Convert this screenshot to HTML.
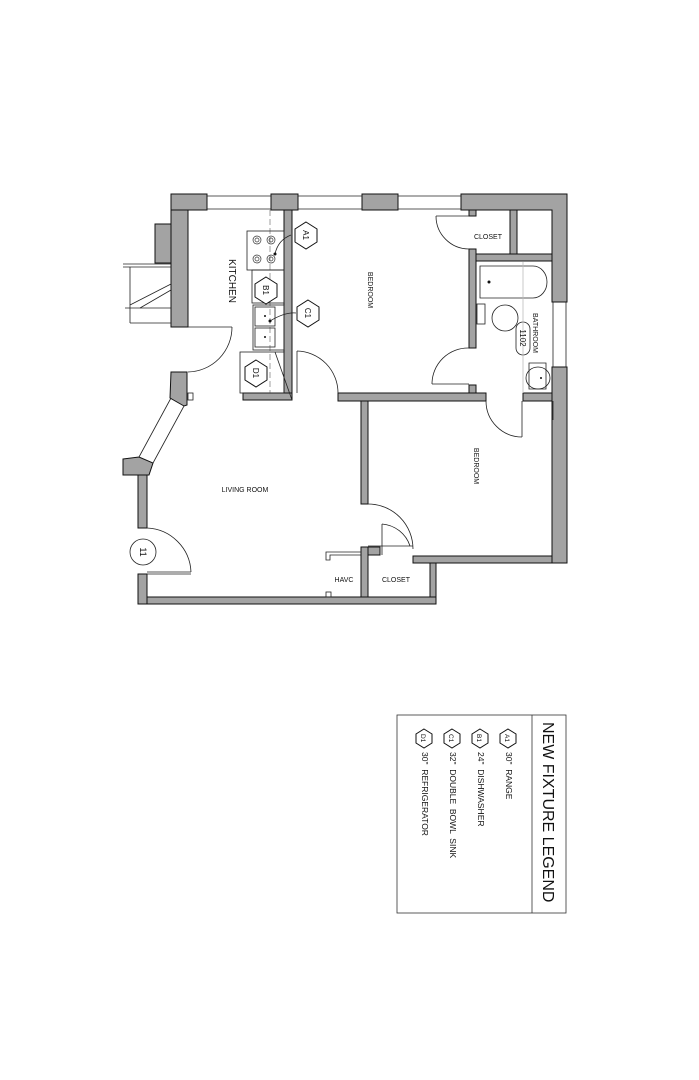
<!DOCTYPE html>
<html><head><meta charset="utf-8"><style>
html,body{margin:0;padding:0;background:#fff;}
svg{display:block;font-family:"Liberation Sans",sans-serif;}
</style></head><body>
<svg width="699" height="1080" viewBox="0 0 699 1080" xmlns="http://www.w3.org/2000/svg">
<g fill="#a3a3a3" stroke="#111" stroke-width="1">
<rect x="171" y="194" width="36" height="16"/>
<rect x="271" y="194" width="27" height="16"/>
<rect x="362" y="194" width="36" height="16"/>
<polygon points="461,194 567,194 567,302 552,302 552,210 461,210"/>
<rect x="171" y="210" width="17" height="117"/>
<rect x="155" y="224" width="16" height="39"/>
<rect x="552" y="367" width="15" height="196"/>
<rect x="284" y="210" width="8" height="190"/>
<rect x="243" y="393" width="49" height="7"/>
<rect x="338" y="393" width="148" height="8"/>
<rect x="469" y="385" width="7" height="8"/>
<rect x="361" y="401" width="7" height="103"/>
<rect x="469" y="249" width="7" height="99"/>
<rect x="469" y="210" width="7" height="6"/>
<rect x="476" y="254" width="76" height="7"/>
<rect x="510" y="210" width="7" height="44"/>
<rect x="523" y="393" width="29" height="8"/>
<rect x="413" y="556" width="139" height="7"/>
<rect x="430" y="563" width="6" height="41"/>
<rect x="147" y="597" width="289" height="7"/>
<rect x="361" y="547" width="7" height="50"/>
<rect x="368" y="547" width="12" height="8"/>
<rect x="138" y="475" width="9" height="53"/>
<rect x="138" y="574" width="9" height="30"/>
<polygon points="171,372 187,372 187,405 184,406 170,398"/>
<polygon points="123,459 139,457 153,463 149,475 123,475"/>
</g>
<g fill="none" stroke="#222" stroke-width="0.8">
<line x1="207" y1="196" x2="271" y2="196"/><line x1="207" y1="209" x2="271" y2="209"/>
<line x1="298" y1="196" x2="362" y2="196"/><line x1="298" y1="209" x2="362" y2="209"/>
<line x1="398" y1="196" x2="461" y2="196"/><line x1="398" y1="209" x2="461" y2="209"/>
<line x1="553" y1="302" x2="553" y2="367"/><line x1="566" y1="302" x2="566" y2="367"/>
<line x1="171" y1="398" x2="139" y2="457"/><line x1="184" y1="406" x2="153" y2="463"/>
<rect x="188" y="393" width="5" height="7"/>
<line x1="123" y1="264" x2="171" y2="264"/><line x1="123" y1="267" x2="171" y2="267"/>
<line x1="130" y1="267" x2="130" y2="323"/><line x1="125" y1="308" x2="171" y2="308"/>
<line x1="130" y1="305" x2="171" y2="284"/><line x1="140" y1="308" x2="171" y2="290"/>
<line x1="130" y1="323" x2="171" y2="323"/>
<line x1="188" y1="327" x2="232" y2="327"/>
<path d="M232,327 A45,45 0 0 1 188,372"/>
<line x1="297" y1="351" x2="297" y2="393"/>
<path d="M297,351 A42,42 0 0 1 338,393"/>
<line x1="436" y1="216" x2="469" y2="216"/>
<path d="M436,216 A33,33 0 0 0 469,249"/>
<line x1="432" y1="384" x2="469" y2="384"/>
<path d="M469,348 A36,36 0 0 0 432,384"/>
<line x1="522" y1="401" x2="522" y2="437"/>
<path d="M486,401 A36,36 0 0 0 522,437"/>
<path d="M368,504 A45,45 0 0 1 413,549"/>
<line x1="368" y1="546" x2="413" y2="546"/>
<path d="M382,524 A32,32 0 0 1 410,546"/>
<line x1="382" y1="524" x2="382" y2="555"/>
<path d="M147,528 A46,46 0 0 1 191,572"/>
<line x1="147" y1="572" x2="191" y2="572"/>
<line x1="147" y1="574" x2="191" y2="574"/>
<polyline points="361,552 326,552 326,560 330,560 330,555 361,555"/>
<rect x="326" y="592" width="5" height="5"/>
<line x1="270" y1="210" x2="270" y2="393" stroke-dasharray="6,3" stroke="#888"/>
<rect x="247" y="231" width="37" height="39"/>
<rect x="252" y="270" width="32" height="33"/>
<rect x="253" y="305" width="31" height="45"/>
<rect x="255" y="307" width="20" height="19"/><rect x="255" y="328" width="20" height="19"/>
<rect x="240" y="352" width="44" height="41"/>
<path d="M291,235 Q278,240 275,254"/>
<path d="M296,313 Q285,312 270,321"/>
<line x1="275" y1="352" x2="292" y2="400"/>
<path d="M480,266 L533,266 A14,16 0 0 1 533,298 L480,298 Z"/>
<rect x="477" y="304" width="8" height="20"/>
<ellipse cx="505" cy="318" rx="13" ry="13"/>
<path d="M529,363 L546,363 L546,389 L529,389 Z"/>
<ellipse cx="538" cy="378" rx="12" ry="11"/>
<line x1="553" y1="401" x2="553" y2="420"/>
<rect x="516" y="322" width="14" height="33" rx="7"/>
<line x1="523" y1="262" x2="523" y2="393" stroke="#bbb"/>
<circle cx="143" cy="552" r="13"/>
<rect x="397" y="715" width="169" height="198" stroke="#333"/>
<line x1="532" y1="715" x2="532" y2="913" stroke="#333"/>
</g>
<g fill="none" stroke="#333" stroke-width="0.7">
<circle cx="257" cy="240" r="4"/><circle cx="257" cy="240" r="2"/>
<circle cx="271" cy="240" r="4"/><circle cx="271" cy="240" r="2"/>
<circle cx="257" cy="259" r="4"/><circle cx="257" cy="259" r="2"/>
<circle cx="271" cy="259" r="4"/><circle cx="271" cy="259" r="2"/>
</g>
<g fill="#111"><circle cx="275" cy="254" r="1.5"/><circle cx="270" cy="321" r="1.5"/><circle cx="265" cy="316" r="1"/><circle cx="265" cy="337" r="1"/><circle cx="489" cy="282" r="1.5"/><circle cx="541" cy="378" r="1"/></g>
<g fill="#fff" stroke="#111" stroke-width="1">
<polygon points="306,222 317,229 317,242 306,249 295,242 295,229"/>
<polygon points="266,277 277,284 277,297 266,304 255,297 255,284"/>
<polygon points="308,300 319,307 319,320 308,327 297,320 297,307"/>
<polygon points="256,360 267,367 267,380 256,387 245,380 245,367"/>
<polygon points="508,729 516,734 516,743 508,748 500,743 500,734"/>
<polygon points="480,729 488,734 488,743 480,748 472,743 472,734"/>
<polygon points="452,729 460,734 460,743 452,748 444,743 444,734"/>
<polygon points="424,729 432,734 432,743 424,748 416,743 416,734"/>
</g>
<g font-size="8" fill="#111" text-anchor="middle">
<text transform="translate(303,235) rotate(90)">A1</text>
<text transform="translate(263,290) rotate(90)">B1</text>
<text transform="translate(305,313) rotate(90)">C1</text>
<text transform="translate(253,373) rotate(90)">D1</text>
<text transform="translate(140,552) rotate(90)" font-size="9">11</text>
<text transform="translate(520,338) rotate(90)" font-size="8">1102</text>
<text transform="translate(229,281) rotate(90)" font-size="10">KITCHEN</text>
<text transform="translate(368,290) rotate(90)" font-size="7">BEDROOM</text>
<text transform="translate(474,466) rotate(90)" font-size="7">BEDROOM</text>
<text transform="translate(533,333) rotate(90)" font-size="7">BATHROOM</text>
<text x="488" y="239" font-size="7">CLOSET</text>
<text x="245" y="492" font-size="7">LIVING ROOM</text>
<text x="344" y="582" font-size="7">HAVC</text>
<text x="396" y="582" font-size="7">CLOSET</text>
</g>
<g font-size="8.5" fill="#111">
<text transform="translate(505,734) rotate(90)" font-size="6.5">A1</text>
<text transform="translate(477,734) rotate(90)" font-size="6.5">B1</text>
<text transform="translate(449,734) rotate(90)" font-size="6.5">C1</text>
<text transform="translate(421,734) rotate(90)" font-size="6.5">D1</text>
<text transform="translate(506,752) rotate(90)" xml:space="preserve">30"  RANGE</text>
<text transform="translate(478,752) rotate(90)" xml:space="preserve">24"  DISHWASHER</text>
<text transform="translate(450,752) rotate(90)" xml:space="preserve">32"  DOUBLE  BOWL  SINK</text>
<text transform="translate(422,752) rotate(90)" xml:space="preserve">30"  REFRIGERATOR</text>
<text transform="translate(543,722) rotate(90)" font-size="16">NEW FIXTURE LEGEND</text>
</g>
</svg>
</body></html>
